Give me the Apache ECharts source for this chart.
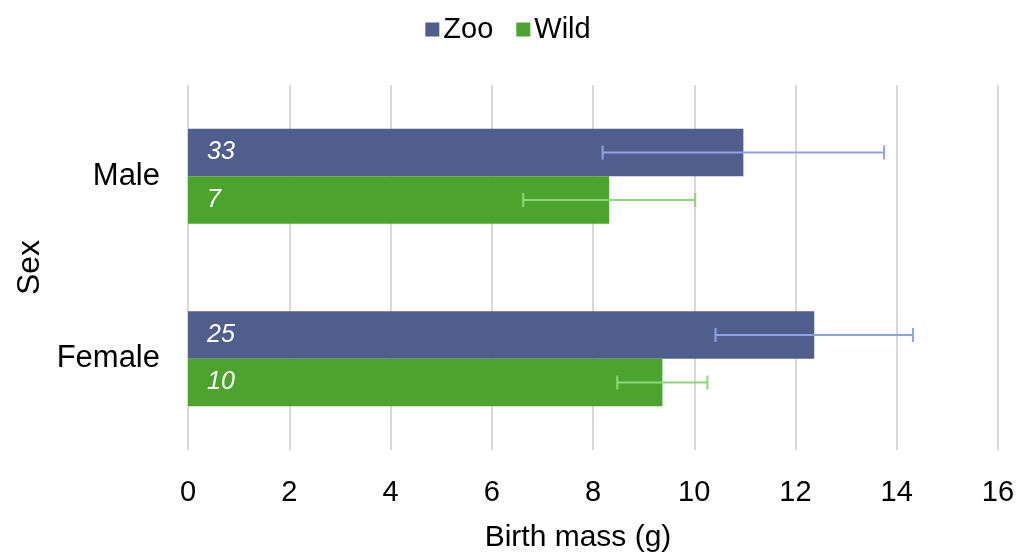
<!DOCTYPE html>
<html><head><meta charset="utf-8">
<script src="https://cdn.jsdelivr.net/npm/echarts@6/dist/echarts.min.js"></script>
<style>html,body{margin:0;padding:0;background:#fff}#c{width:1016px;height:554px}</style>
</head><body><div id="c"></div>
<script>
const categories = ['Male', 'Female'];
const seriesNames = ['Zoo', 'Wild'];
const zooMean = [10.97, 12.37];
const zooErr = [2.78, 1.95];
const zooN = [33, 25];
const wildMean = [8.32, 9.37];
const wildErr = [1.70, 0.89];
const wildN = [7, 10];
const xTicks = [0, 2, 4, 6, 8, 10, 12, 14, 16];

const FONT = '"Liberation Sans", Arial, Helvetica, sans-serif';
const barColors = ['#4f5e8c', '#4ca42e'];
const errColors = ['#8fa3e3', '#8ed67c'];
const GAP = 0.48; // barCategoryGap fraction

function errSeries(idx, means, errs) {
  return {
    type: 'custom',
    name: seriesNames[idx] + ' err',
    z: 5,
    silent: true,
    renderItem: function (params, api) {
      const cat = api.value(0);
      const lo = api.value(1), hi = api.value(2);
      const band = api.size([0, 1])[1];
      const barW = band * (1 - GAP) / 2;
      const off = (idx === 0 ? -1 : 1) * barW / 2;
      const p1 = api.coord([lo, cat]);
      const p2 = api.coord([hi, cat]);
      const y = p1[1] + off;
      const cap = 7;
      const style = { stroke: errColors[idx], lineWidth: 2 };
      return {
        type: 'group',
        children: [
          { type: 'line', shape: { x1: p1[0], y1: y, x2: p2[0], y2: y }, style: style },
          { type: 'line', shape: { x1: p1[0], y1: y - cap, x2: p1[0], y2: y + cap }, style: style },
          { type: 'line', shape: { x1: p2[0], y1: y - cap, x2: p2[0], y2: y + cap }, style: style }
        ]
      };
    },
    encode: { y: 0, x: [1, 2] },
    data: means.map((m, i) => [i, m - errs[i], m + errs[i]])
  };
}

const chart = echarts.init(document.getElementById('c'));
chart.setOption({
  animation: false,
  textStyle: { fontFamily: FONT },
  legend: {
    top: 10, left: 'center',
    itemWidth: 14, itemHeight: 14, itemGap: 23,
    icon: 'rect',
    textStyle: { fontSize: 29, color: '#000', fontFamily: FONT, padding: [0, 0, 0, -1] },
    data: seriesNames
  },
  grid: { left: 188, right: 18, top: 85, bottom: 104, containLabel: false, outerBoundsMode: 'none' },
  xAxis: {
    type: 'value', min: xTicks[0], max: xTicks[xTicks.length - 1], interval: 2,
    name: 'Birth mass (g)', nameLocation: 'middle', nameGap: 73,
    nameTextStyle: { fontSize: 30, color: '#000', fontFamily: FONT, padding: [0, 30, 0, 0] },
    axisLine: { show: false }, axisTick: { show: false },
    axisLabel: { fontSize: 29, color: '#000', margin: 28, fontFamily: FONT },
    splitLine: { lineStyle: { color: '#d9d9d9', width: 2 } }
  },
  yAxis: {
    type: 'category', data: categories, inverse: true,
    name: 'Sex', nameLocation: 'middle', nameGap: 142, nameRotate: 90,
    nameTextStyle: { fontSize: 32, color: '#000', fontFamily: FONT },
    axisLine: { show: false }, axisTick: { show: false },
    axisLabel: { fontSize: 31, color: '#000', margin: 28, fontFamily: FONT }
  },
  series: [
    {
      type: 'bar', name: seriesNames[0], data: zooMean,
      barGap: '0%', barCategoryGap: (GAP * 100) + '%',
      itemStyle: { color: barColors[0] },
      label: { show: true, position: 'insideLeft', distance: 19, color: '#fff', fontSize: 25, fontStyle: 'italic', fontFamily: FONT,
        formatter: p => String(zooN[p.dataIndex]) }
    },
    {
      type: 'bar', name: seriesNames[1], data: wildMean,
      barGap: '0%', barCategoryGap: (GAP * 100) + '%',
      itemStyle: { color: barColors[1] },
      label: { show: true, position: 'insideLeft', distance: 19, color: '#fff', fontSize: 25, fontStyle: 'italic', fontFamily: FONT,
        formatter: p => String(wildN[p.dataIndex]) }
    },
    errSeries(0, zooMean, zooErr),
    errSeries(1, wildMean, wildErr)
  ]
});
</script></body></html>
